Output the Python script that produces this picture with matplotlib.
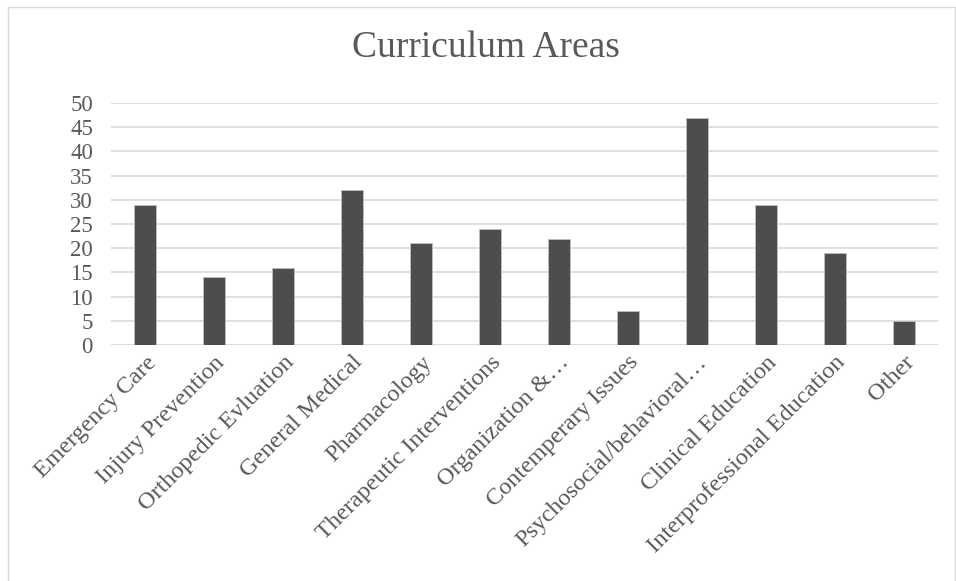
import matplotlib
matplotlib.use("Agg")
import matplotlib.pyplot as plt
from matplotlib.patches import Rectangle

categories = ["Emergency Care", "Injury Prevention", "Orthopedic Evluation", "General Medical",
              "Pharmacology", "Therapeutic Interventions", "Organization &…", "Contemperary Issues",
              "Psychosocial/behavioral…", "Clinical Education", "Interprofessional Education", "Other"]
values = [29, 14, 16, 32, 21, 24, 22, 7, 47, 29, 19, 5]
yticks = [0, 5, 10, 15, 20, 25, 30, 35, 40, 45, 50]

plt.rcParams['font.family'] = ['Liberation Serif', 'DejaVu Serif']
fig = plt.figure(figsize=(9.56, 5.81), dpi=100)
fig.patches.append(Rectangle((7.5/956, -0.01), 947/956, 1 - 7.5/581 + 0.01, transform=fig.transFigure,
                             fill=False, edgecolor='#d9d9d9', linewidth=1))
ax = fig.add_axes([111/956, 1 - 345/581, 827/956, 242/581])
x = list(range(len(categories)))
ax.bar(x, values, width=0.32, color='#4d4d4d', edgecolor='#bfbfbf', linewidth=0.6, zorder=3)
ax.set_xlim(-0.5, len(categories) - 0.5)
ax.set_ylim(0, 50)
ax.set_yticks(yticks)
ax.set_yticklabels([str(v) for v in yticks], fontsize=16.5, color='#595959')
ax.set_xticks(x)
ax.set_xticklabels(categories, rotation=45, ha='right', rotation_mode='anchor',
                   fontsize=17.5, color='#595959')
ax.grid(axis='y', color='#d9d9d9', linewidth=1.2, zorder=0)
for s in ax.spines.values():
    s.set_visible(False)
ax.tick_params(length=0, pad=5)
ax.tick_params(axis='y', pad=13)
ax.axhline(0, color='#d9d9d9', linewidth=1.2, zorder=2)
fig.text(486/956, 1 - 48/581, "Curriculum Areas", ha='center', va='center', fontsize=27, color='#595959')
fig.savefig("out.png", dpi=100)
